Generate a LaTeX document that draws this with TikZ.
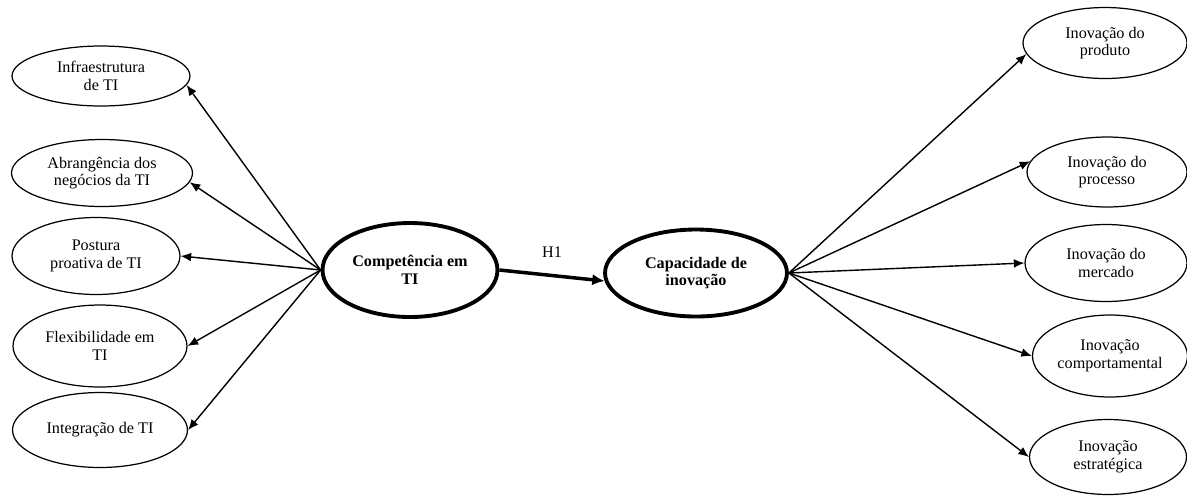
\documentclass[tikz,border=0pt]{standalone}
\usepackage{fontspec}
\setmainfont{Liberation Serif}
\usepackage{tikz}
\usetikzlibrary{shapes.geometric, arrows.meta}

\newcommand{\fonte}{\fontsize{9.2}{10}\selectfont}
\tikzset{
  construto/.style={ellipse, draw, line width=0.7pt, inner sep=0pt, align=center, font=\fonte},
  latente/.style={construto, line width=2.2pt, font=\fonte\bfseries},
}

\begin{document}
\begin{tikzpicture}[x=0.02cm, y=-0.02cm, >={Latex[length=6pt,width=5pt]}, font=\fonte]
		\useasboundingbox (0,0) rectangle (1187,495);
		% construtos centrais
		\node[latente, minimum width=3.5cm, minimum height=1.88cm] (compti) at (410,270) {Competência em\\TI};
		\node[latente, minimum width=3.64cm, minimum height=1.74cm] (capino) at (696,273) {Capacidade de\\inovação};
		% dimensoes da competencia
		\node[construto, minimum width=3.56cm, minimum height=1.2cm] (infra) at (101,76) {Infraestrutura\\de TI};
		\node[construto, minimum width=3.62cm, minimum height=1.34cm] (abran) at (102,173) {Abrangência dos\\negócios da TI};
		\node[construto, minimum width=3.36cm, minimum height=1.54cm] (postura) at (96,256) {Postura\\proativa de TI};
		\node[construto, minimum width=3.48cm, minimum height=1.64cm] (flexi) at (100,346) {Flexibilidade em\\TI};
		\node[construto, minimum width=3.5cm, minimum height=1.5cm] (integ) at (100,430) {Integração de TI};
		% dimensoes da inovacao
		\node[construto, minimum width=3.28cm, minimum height=1.42cm] (produto) at (1105,43) {Inovação do\\produto};
		\node[construto, minimum width=3.2cm, minimum height=1.4cm] (processo) at (1107,172) {Inovação do\\processo};
		\node[construto, minimum width=3.24cm, minimum height=1.54cm] (mercado) at (1106,263) {Inovação do\\mercado};
		\node[construto, minimum width=3.1cm, minimum height=1.64cm] (comport) at (1110,356) {Inovação\\comportamental};
		\node[construto, minimum width=3.14cm, minimum height=1.5cm] (estrat) at (1108,457) {Inovação\\estratégica};
		% setas
		\draw[->, line width=0.8pt] (compti.west) -- (infra.-6);
		\draw[->, line width=0.8pt] (compti.west) -- (abran.-6);
		\draw[->, line width=0.8pt] (compti.west) -- (postura.east);
		\draw[->, line width=0.8pt] (compti.west) -- (flexi.east);
		\draw[->, line width=0.8pt] (compti.west) -- (integ.east);
		\draw[->, line width=0.8pt] (capino.east) -- (produto.188);
		\draw[->, line width=0.8pt] (capino.east) -- (processo.172);
		\draw[->, line width=0.8pt] (capino.east) -- (mercado.west);
		\draw[->, line width=0.8pt] (capino.east) -- (comport.west);
		\draw[->, line width=0.8pt] (capino.east) -- (estrat.west);
		\draw[-{Latex[length=7pt,width=6.5pt]}, line width=2pt] (compti.east) -- node[above=6pt] (h1) {H1} (capino.185);
	\end{tikzpicture}
\end{document}
